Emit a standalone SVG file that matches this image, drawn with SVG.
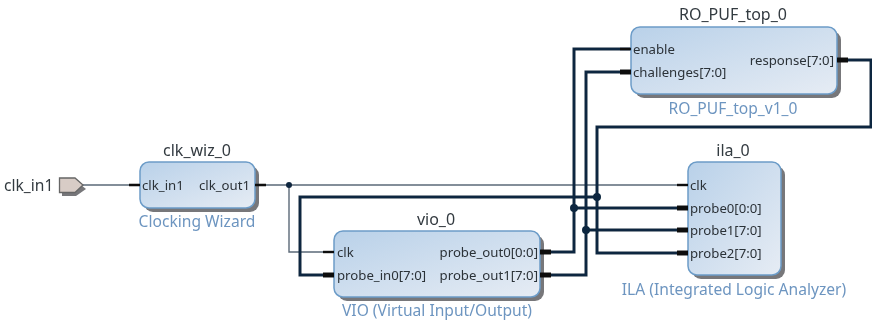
<svg xmlns="http://www.w3.org/2000/svg" width="872" height="321" viewBox="0 0 872 321">
<style>
text{font-family:"Noto Sans","DejaVu Sans",sans-serif;fill:#333a40}
.name{font-size:16px;text-anchor:middle}
.type{font-size:15.6px;text-anchor:middle;fill:#6d95c0}
.pin{font-size:13.2px;fill:#2c3238}
.r{text-anchor:end}
.box{fill:url(#g);stroke:#6c9cc8;stroke-width:1.5}
.sh{fill:#77777a}
.thin{fill:none;stroke:#5b6a78;stroke-width:1.4}
.thick{fill:none;stroke:#10283f;stroke-width:3}
.st1{stroke:#111;stroke-width:2.4}
.st2{stroke:#111;stroke-width:5}
.dot{fill:#10283f}
</style>
<defs>
<linearGradient id="g" x1="0" y1="0" x2="1" y2="1"><stop offset="0" stop-color="#b9d1e9"/><stop offset="1" stop-color="#e6ecf4"/></linearGradient>
<filter id="b" x="-5%" y="-5%" width="110%" height="110%"><feGaussianBlur stdDeviation="0.45"/></filter>
</defs>
<rect width="872" height="321" fill="#fff"/>
<g filter="url(#b)">
<g id="connectors">
<path class="thin" d="M83 185H140M255 185H688M289 185V252H334"/>
<path class="thick" d="M334 275H300V197H597"/>
<path class="thick" d="M540 252H574V49H631"/>
<path class="thick" d="M540 275H586V72H631"/>
<path class="thick" d="M574 208H688M586 230H688"/>
<path class="thick" d="M837 60H871V127H597V253H688"/>
<circle class="dot" cx="289" cy="185" r="3"/>
<circle class="dot" cx="574" cy="208" r="4"/>
<circle class="dot" cx="586" cy="230" r="4"/>
<circle class="dot" cx="597" cy="197" r="4"/>
</g>
<g id="clk_in1">
<path class="sh" d="M62 181H76L86 189L76 196H62Z"/>
<path d="M59.500 178H75L83 185L75 192.500H59.500Z" fill="#d8ccc6" stroke="#666" stroke-width="1.300"/>
<text x="4" y="191" font-size="15.6">clk_in1</text>
</g>
<g id="clk_wiz_0">
<rect class="sh" x="144" y="166" width="115" height="46" rx="9"/>
<rect class="box" x="140" y="162" width="115" height="46" rx="9"/>
<path class="st1" d="M129 185H140M255 185H266"/>
<text class="name" x="197" y="156">clk_wiz_0</text>
<text class="pin" x="142" y="190">clk_in1</text>
<text class="pin r" x="250" y="190">clk_out1</text>
<text class="type" x="197" y="227">Clocking Wizard</text>
</g>
<g id="vio_0">
<rect class="sh" x="338" y="235" width="206" height="66" rx="9"/>
<rect class="box" x="334" y="231" width="206" height="66" rx="9"/>
<path class="st1" d="M323 252H334"/>
<path class="st2" d="M323 275H334M540 252H551M540 275H551"/>
<text class="name" x="436" y="225">vio_0</text>
<text class="pin" x="337" y="257">clk</text>
<text class="pin" x="337" y="280">probe_in0[7:0]</text>
<text class="pin r" x="538" y="257">probe_out0[0:0]</text>
<text class="pin r" x="538" y="280">probe_out1[7:0]</text>
<text class="type" x="437" y="316">VIO (Virtual Input/Output)</text>
</g>
<g id="RO_PUF_top_0">
<rect class="sh" x="635" y="31" width="206" height="67" rx="9"/>
<rect class="box" x="631" y="27" width="206" height="67" rx="9"/>
<path class="st1" d="M620 49H631"/>
<path class="st2" d="M620 72H631M837 60H848"/>
<text class="name" x="733" y="20">RO_PUF_top_0</text>
<text class="pin" x="633" y="54">enable</text>
<text class="pin" x="633" y="77">challenges[7:0]</text>
<text class="pin r" x="834" y="65">response[7:0]</text>
<text class="type" x="733" y="114">RO_PUF_top_v1_0</text>
</g>
<g id="ila_0">
<rect class="sh" x="692" y="166" width="93" height="113" rx="9"/>
<rect class="box" x="688" y="162" width="93" height="113" rx="9"/>
<path class="st1" d="M677 185H688"/>
<path class="st2" d="M677 208H688M677 230H688M677 253H688"/>
<text class="name" x="733" y="156">ila_0</text>
<text class="pin" x="690" y="190">clk</text>
<text class="pin" x="690" y="213">probe0[0:0]</text>
<text class="pin" x="690" y="235">probe1[7:0]</text>
<text class="pin" x="690" y="258">probe2[7:0]</text>
<text class="type" x="734" y="295">ILA (Integrated Logic Analyzer)</text>
</g>
</g>
</svg>
